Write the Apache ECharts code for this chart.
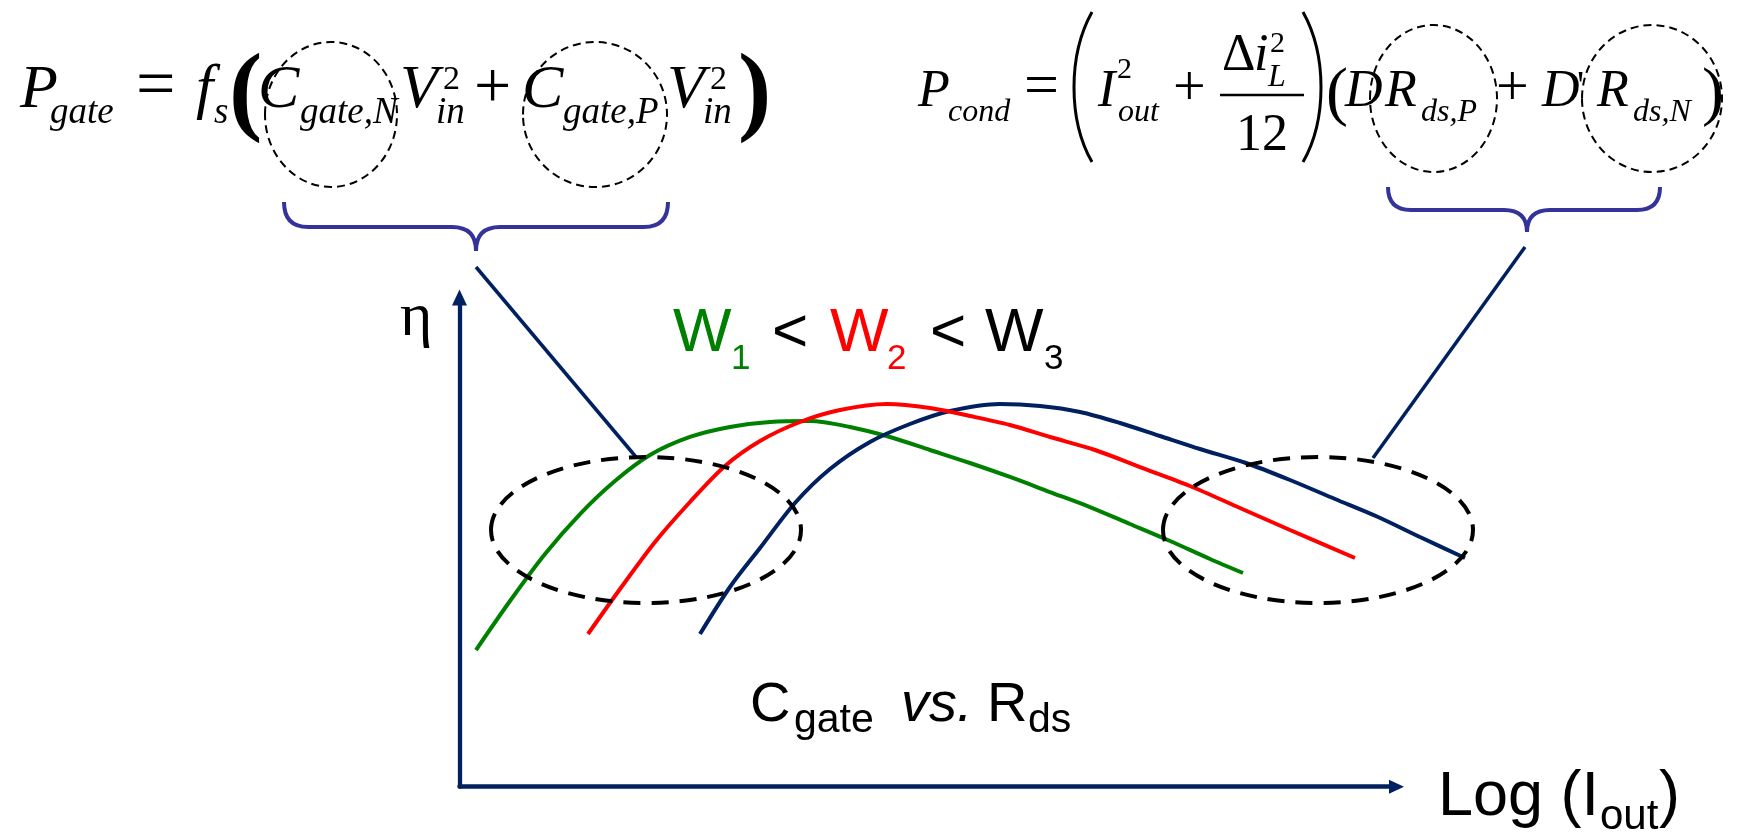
<!DOCTYPE html>
<html>
<head>
<meta charset="utf-8">
<script src="https://cdn.jsdelivr.net/npm/echarts@6/dist/echarts.min.js"></script>
<style>
html,body{margin:0;padding:0;background:#fff;}
#chart{width:1741px;height:835px;}
</style>
</head>
<body>
<div id="chart"></div>
<script>
// ---- data (x: log(Iout) in % of axis length, y: efficiency in % of axis height) ----
const curveW1 = [[1.76,27.94],[5.39,37.96],[9.13,47.57],[12.87,55.74],[16.60,62.49],[20.34,67.80],[24.61,71.49],[28.88,73.53],[33.16,74.55],[37.43,74.75],[41.70,73.53],[45.97,71.48],[50.24,68.83],[54.51,66.17],[58.78,63.31],[63.05,60.24],[67.32,57.17],[71.60,53.70],[75.87,50.22],[80.14,46.55],[83.66,43.68]];
const curveW2 = [[13.72,31.21],[17.14,40.41],[20.88,50.02],[24.61,58.20],[28.35,65.56],[32.09,70.67],[36.36,74.55],[40.63,77.00],[45.65,78.23],[50.24,77.41],[54.51,75.78],[58.78,73.94],[63.05,71.48],[67.86,68.83],[72.66,65.35],[78.00,61.47],[83.34,56.97],[88.68,52.47],[95.62,46.75]];
const curveW3 = [[25.68,31.21],[28.88,40.82],[32.09,48.79],[35.82,57.99],[39.56,64.94],[43.83,70.46],[48.10,74.14],[52.38,76.80],[57.71,78.23],[61.99,77.82],[66.26,76.59],[70.53,74.35],[74.80,71.69],[79.07,69.03],[83.98,66.17],[88.68,62.69],[93.49,58.81],[98.08,55.13],[102.56,51.04],[107.37,46.75]];
const seriesNames = ['W1','W2','W3'];
const yAxisLabel = 'η';
const xAxisLabel = ['Log (I', 'out', ')'];

const NAVY = '#002060';
const BRACE = '#333399';
const SERIF = "'Liberation Serif','Times New Roman',serif";
const SANS = "'Liberation Sans',Arial,sans-serif";

function txt(s, x, base, fs, o) {
  o = o || {};
  const fam = o.sans ? SANS : SERIF;
  const pre = (o.italic ? 'italic ' : '') + (o.bold ? 'bold ' : '');
  return {type:'text', x:x, y: base - 0.31*fs, z:30, silent:true,
    style:{text:s, font: pre + fs + 'px ' + fam, fill: o.color || '#000',
      textAlign:'left', textVerticalAlign:'middle', align:'left', verticalAlign:'middle'}};
}
const it = {italic:true};
function line(x1,y1,x2,y2,w,c){return {type:'line', z:25, silent:true, shape:{x1,y1,x2,y2}, style:{stroke:c, lineWidth:w, lineCap:'butt'}};}
function bez(x1,y1,cx,cy,x2,y2,w,c){return {type:'bezierCurve', z:25, silent:true, shape:{x1,y1,cpx1:cx,cpy1:cy,x2,y2}, style:{stroke:c, lineWidth:w, fill:'none'}};}
function bez2(x1,y1,c1x,c1y,c2x,c2y,x2,y2,w,c){return {type:'bezierCurve', z:25, silent:true, shape:{x1,y1,cpx1:c1x,cpy1:c1y,cpx2:c2x,cpy2:c2y,x2,y2}, style:{stroke:c, lineWidth:w, fill:'none'}};}
function ell(cx,cy,rx,ry,w,dash){return {type:'ellipse', z:28, silent:true, shape:{cx,cy,rx,ry}, style:{fill:'none', stroke:'#000', lineWidth:w, lineDash:dash}};}
function brace(xl,xr,xm,yTop,yH,yTip,r){
  const w=4;
  return [
    bez(xl,yTop,xl,yH,xl+r,yH,w,BRACE),
    line(xl+r,yH,xm-r,yH,w,BRACE),
    bez(xm-r,yH,xm,yH,xm,yTip,w,BRACE),
    bez(xm+r,yH,xm,yH,xm,yTip,w,BRACE),
    line(xm+r,yH,xr-r,yH,w,BRACE),
    bez(xr-r,yH,xr,yH,xr,yTop,w,BRACE)
  ];
}

const graphics = [].concat(
  // left formula
  [
    txt('P',20,110,62,it), txt('gate',50,125,37,it), txt('=',136,110,70),
    txt('f',196,110,62,it), txt('s',214,125,37,it), txt('(',229,127,100,{bold:true}),
    txt('C',258,110,62,it), txt('gate,N',300,125,37,it),
    txt('V',400,110,62,it), txt('2',443,91,34), txt('in',436,125,37,it),
    txt('+',474,110,66),
    txt('C',522,110,62,it), txt('gate,P',563,125,37,it),
    txt('V',667,110,62,it), txt('2',710,91,34), txt('in',703,125,37,it),
    txt(')',738,127,100,{bold:true}),
    ell(331,114.5,66,72.5,2,[8,5]), ell(595,114.5,72,72.5,2,[8,5])
  ],
  // right formula
  [
    txt('P',918,108,52,it), txt('cond',948,123,32,it), txt('=',1024,108,62),
    bez2(1092,12,1068,55,1068,120,1092,162,3,'#000'),
    txt('I',1098,108,52,it), txt('2',1117,79,30), txt('out',1118,123,32,it),
    txt('+',1173,108,58),
    txt('Δ',1222,72,52), txt('i',1254,72,52,it), txt('2',1270,53,30), txt('L',1268,88,32,it),
    line(1220,95,1304,95,2.5,'#000'),
    txt('12',1236,152,52),
    bez2(1303,12,1327,55,1327,120,1303,162,3,'#000'),
    txt('(',1326,116,66),
    txt('D',1345,108,52,it), txt('R',1385,108,52,it), txt('ds,P',1421,123,32,it),
    txt('+',1496,108,58),
    txt('D',1542,108,52,it), txt("'",1577,100,40), txt('R',1597,108,52,it), txt('ds,N',1633,123,32,it),
    txt(')',1702,116,66),
    ell(1433.5,98.5,63.5,73.5,2,[8,5]), ell(1652,98.5,70,73.5,2,[8,5])
  ],
  brace(284,668,476,202,227,251,24),
  brace(1388,1660,1527,187,210,232,23),
  [
    line(476,267,636,457,3.5,NAVY),
    line(1525,247,1373,458,3.5,NAVY),
    ell(646,530,155,73,4,[17,11]),
    ell(1318,530,155,73,4,[17,11])
  ],
  // labels
  [
    txt(yAxisLabel,400,338,62),
    txt('W',673,353,62,{sans:true,color:'#008000'}), txt('1',731,370,35,{sans:true,color:'#008000'}),
    txt('<',772,353,62,{sans:true}),
    txt('W',830,353,62,{sans:true,color:'#ff0000'}), txt('2',887,370,35,{sans:true,color:'#ff0000'}),
    txt('<',930,353,62,{sans:true}),
    txt('W',985,353,62,{sans:true}), txt('3',1044,370,35,{sans:true}),
    txt('C',750,723,56,{sans:true}), txt('gate',794,733,41,{sans:true}),
    txt('vs.',901,723,56,{sans:true,italic:true}),
    txt('R',987,723,56,{sans:true}), txt('ds',1028,733,41,{sans:true}),
    txt(xAxisLabel[0],1438,817,63,{sans:true}), txt(xAxisLabel[1],1600,830,42,{sans:true}), txt(xAxisLabel[2],1659,817,63,{sans:true})
  ]
);

const hidden = {axisLine:{show:false}, axisTick:{show:false}, axisLabel:{show:false}, splitLine:{show:false}};
const axisCommon = {
  type:'value', min:0, max:100,
  axisTick:{show:false}, axisLabel:{show:false}, splitLine:{show:false}
};
const PX_PER_UNIT_X = 9.365;
const chart = echarts.init(document.getElementById('chart'), null, {renderer:'canvas'});
chart.setOption({
  animation:false,
  backgroundColor:'#fff',
  grid:[
    {left:459.5, right:344.5, top:297.5, bottom:48.3, containLabel:false},
    {left:459.5, width:PX_PER_UNIT_X*120, top:297.5, bottom:48.3, containLabel:false}
  ],
  xAxis: [
    Object.assign({}, axisCommon, {gridIndex:0, axisLine:{show:true, onZero:false, symbol:['none','triangle'], symbolSize:[14,15], lineStyle:{color:NAVY, width:4.5}}}),
    Object.assign({type:'value', min:0, max:120, gridIndex:1}, hidden)
  ],
  yAxis: [
    Object.assign({}, axisCommon, {gridIndex:0, axisLine:{show:true, onZero:false, symbol:['none','triangle'], symbolSize:[15,16], lineStyle:{color:NAVY, width:4.3}}}),
    Object.assign({type:'value', min:0, max:100, gridIndex:1}, hidden)
  ],
  series: [
    {name:seriesNames[0], type:'line', xAxisIndex:1, yAxisIndex:1, data:curveW1, smooth:0.3, showSymbol:false, clip:false, lineStyle:{color:'#008000', width:4}, z:3},
    {name:seriesNames[2], type:'line', xAxisIndex:1, yAxisIndex:1, data:curveW3, smooth:0.3, showSymbol:false, clip:false, lineStyle:{color:NAVY, width:4}, z:3},
    {name:seriesNames[1], type:'line', xAxisIndex:1, yAxisIndex:1, data:curveW2, smooth:0.3, showSymbol:false, clip:false, lineStyle:{color:'#ff0000', width:4}, z:4}
  ],
  graphic: graphics
});
</script>
</body>
</html>
